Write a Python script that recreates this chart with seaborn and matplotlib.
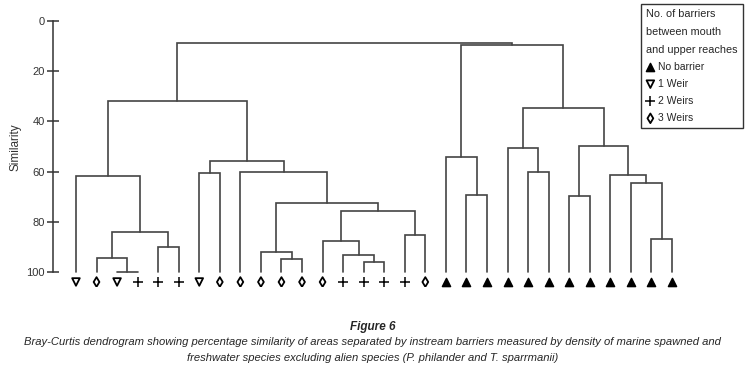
import numpy as np
import pandas as pd
import seaborn as sns
import matplotlib.pyplot as plt

sns.set_style("white")
plt.rcParams['font.family'] = ['Liberation Sans', 'DejaVu Sans']

# Leaves, left to right (barrier class of each area)
leaf_types = ["1 Weir", "3 Weirs", "1 Weir", "2 Weirs", "2 Weirs", "2 Weirs",
              "1 Weir", "3 Weirs", "3 Weirs", "3 Weirs", "3 Weirs", "3 Weirs",
              "3 Weirs", "2 Weirs", "2 Weirs", "2 Weirs", "2 Weirs", "3 Weirs"] + ["No barrier"] * 12

# Merges (scipy-like: new node ids start at len(leaf_types))
merge_left = [2, 1, 4, 31, 0, 6, 10, 9, 14, 13, 12, 16, 40, 37, 8, 35, 34,
              19, 18, 22, 21, 24, 28, 27, 26, 51, 50, 48, 46]
merge_right = [3, 30, 5, 32, 33, 7, 11, 36, 15, 38, 39, 17, 41, 42, 43, 44, 45,
               20, 47, 23, 49, 25, 29, 52, 53, 54, 55, 56, 57]
merge_sim = [100, 94.6, 89.9, 84.2, 61.6, 60.4, 94.8, 91.9, 95.9, 93.2, 87.6, 85.3,
             75.6, 72.4, 60.0, 55.6, 31.9, 69.3, 54.1, 60.0, 50.7, 69.7, 86.9, 64.4,
             61.4, 49.8, 34.8, 9.6, 8.6]

legend_order = ["No barrier", "1 Weir", "2 Weirs", "3 Weirs"]
marker_map = {"No barrier": "^", "1 Weir": "v", "2 Weirs": "+", "3 Weirs": "d"}
size_map = {"No barrier": 34, "1 Weir": 30, "2 Weirs": 55, "3 Weirs": 24}

fig = plt.figure(figsize=(7.45, 3.72), dpi=100)
ax = fig.add_axes([0.0707, 0.2285, 0.9225, 0.7285])

n = len(leaf_types)
xs = {i: float(i) for i in range(n)}
hs = {i: 100.0 for i in range(n)}
line_col = "#444444"
for k, (a, b, s) in enumerate(zip(merge_left, merge_right, merge_sim)):
    ax.plot([xs[a], xs[a], xs[b], xs[b]], [hs[a], s, s, hs[b]],
            color=line_col, lw=1.2, solid_joinstyle="miter")
    xs[n + k] = (xs[a] + xs[b]) / 2
    hs[n + k] = s

leaves = pd.DataFrame({"x": np.arange(n), "y": 104.0, "type": leaf_types})
for t in legend_order:
    sub = leaves[leaves["type"] == t]
    if t == "No barrier" or t == "2 Weirs":
        sns.scatterplot(data=sub, x="x", y="y", marker=marker_map[t], s=size_map[t],
                        color="black", edgecolor="black", linewidth=1.1, label=t, ax=ax)
    else:
        sns.scatterplot(data=sub, x="x", y="y", marker=marker_map[t], s=size_map[t],
                        color="black", facecolors="none", edgecolor="black",
                        linewidth=1.3, label=t, ax=ax)

ax.set_xlim(-1.134, 32.31)
ax.set_ylim(106, -2)
for sp in ["top", "right", "bottom"]:
    ax.spines[sp].set_visible(False)
ax.spines["left"].set_bounds(0, 100)
ax.spines["left"].set_color("#333333")
ax.spines["left"].set_linewidth(1.1)
ax.set_xticks([])
ax.set_yticks([0, 20, 40, 60, 80, 100])
ax.tick_params(axis="y", direction="inout", length=9, width=1.1, color="#333333",
               labelsize=8, pad=1, labelcolor="#333333", left=True)
ax.set_xlabel("")
ax.set_ylabel("Similarity", fontsize=8.5, color="#333333")
ax.yaxis.set_label_coords(-0.045, 0.517)

leg = ax.legend(title="No. of barriers\nbetween mouth\nand upper reaches",
                loc="upper left", bbox_to_anchor=(641 / 745, 1 - 4 / 372),
                bbox_transform=fig.transFigure, frameon=True, fancybox=False,
                edgecolor="black", fontsize=7.5, title_fontsize=7.8,
                alignment="left", handlelength=0.8, handletextpad=0.3,
                labelspacing=0.68, borderpad=0.5, borderaxespad=0)
leg.get_frame().set_linewidth(1.0)
leg.get_title().set_linespacing(1.97)

cap_font = ['Liberation Sans', 'DejaVu Sans']
fig.text(0.5, 1 - 327 / 372, "Figure 6", ha="center", va="center", fontsize=8.5,
         style="italic", weight="bold", family=cap_font)
fig.text(0.5, 1 - 342 / 372,
         "Bray-Curtis dendrogram showing percentage similarity of areas separated by instream "
         "barriers measured by density of marine spawned and",
         ha="center", va="center", fontsize=8.15, style="italic", family=cap_font)
fig.text(0.5, 1 - 358 / 372,
         "freshwater species excluding alien species (P. philander and T. sparrmanii)",
         ha="center", va="center", fontsize=8.15, style="italic", family=cap_font)

fig.savefig("out.png", dpi=100)
